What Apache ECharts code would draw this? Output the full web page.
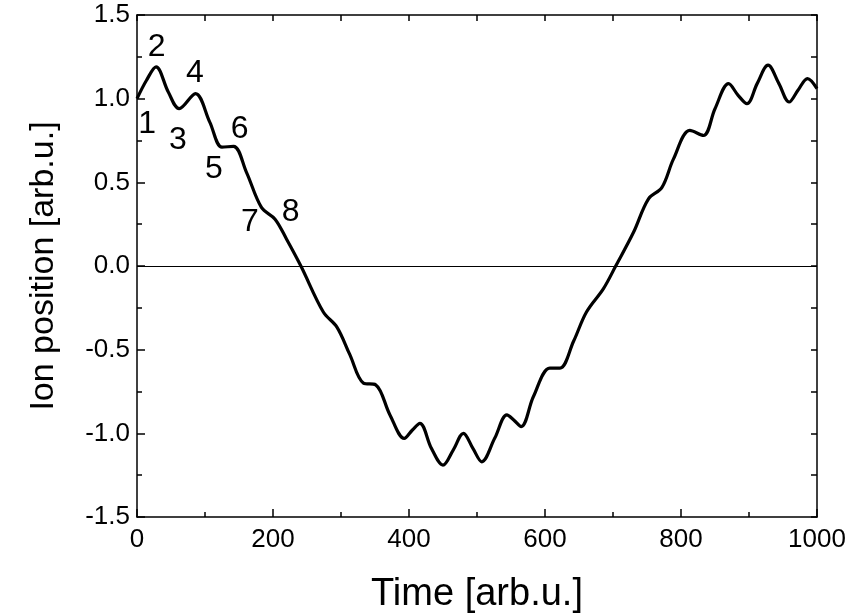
<!DOCTYPE html>
<html>
<head>
<meta charset="utf-8">
<script src="https://cdn.jsdelivr.net/npm/echarts@6/dist/echarts.min.js"></script>
<style>
  html, body { margin: 0; padding: 0; background: #fff; }
  #ion_chart { width: 858px; height: 613px; }
</style>
</head>
<body>
<div id="ion_chart"></div>
<script>
// values
const time_list = [0, 14, 28, 46, 62, 86, 107, 125, 142, 161, 183, 203, 220, 241, 274, 294, 313, 333, 351, 372,
  393, 405, 416, 433, 450, 465, 480, 494, 507, 526, 544, 554, 565, 583, 607, 622, 642, 661, 686, 704,
  730, 752, 772, 789, 813, 833, 850, 870, 884, 897, 912, 928, 944, 959, 972, 986, 1000]
const pos_list = [1.00, 1.11, 1.19, 1.04, 0.94, 1.03, 0.86, 0.71, 0.715, 0.56, 0.35, 0.28, 0.16, 0.00, -0.275, -0.365, -0.53, -0.70, -0.71, -0.89,
  -1.03, -0.98, -0.94, -1.09, -1.19, -1.10, -1.00, -1.09, -1.17, -1.03, -0.89, -0.92, -0.96, -0.78, -0.61, -0.61, -0.45, -0.275, -0.135, 0.00,
  0.20, 0.40, 0.47, 0.64, 0.81, 0.78, 0.94, 1.09, 1.02, 0.97, 1.09, 1.20, 1.09, 0.98, 1.05, 1.12, 1.06]
// numbered markers near the start of the curve
const mark_text = ['1', '2', '3', '4', '5', '6', '7', '8']
const mark_x = [15, 29, 60, 85, 113, 151, 166, 226]
const mark_y = [0.85, 1.31, 0.75, 1.15, 0.58, 0.82, 0.26, 0.32]

const font = 'Liberation Sans, Arial, sans-serif'
const chartDom = document.getElementById('ion_chart')
const myChart = echarts.init(chartDom)

const lineData = time_list.map((t, i) => [t, pos_list[i]])
const markData = mark_text.map((s, i) => ({ value: [mark_x[i], mark_y[i]], name: s }))

const axisLine = { show: true, onZero: false, lineStyle: { color: '#000', width: 1.5 } }

const option = {
  animation: false,
  backgroundColor: '#fff',
  grid: { left: 137, right: 41, top: 15, bottom: 96, outerBoundsMode: 'none', containLabel: false },
  xAxis: [
    {
      type: 'value', position: 'bottom', min: 0, max: 1000, interval: 200,
      axisLine,
      axisTick: { inside: true, length: 8, lineStyle: { color: '#000', width: 1.5 } },
      minorTick: { show: true, splitNumber: 2, length: 5, lineStyle: { color: '#000', width: 1.5 } },
      splitLine: { show: false },
      axisLabel: { color: '#000', fontSize: 26, fontFamily: font, margin: 10, formatter: (v) => String(v) },
      name: 'Time [arb.u.]', nameLocation: 'middle', nameGap: 59,
      nameTextStyle: { color: '#000', fontSize: 38, fontFamily: font },
    },
    {
      type: 'value', position: 'top', min: 0, max: 1000, interval: 100,
      axisLine,
      axisTick: { inside: true, length: 6, lineStyle: { color: '#000', width: 1.5 } },
      splitLine: { show: false },
      axisLabel: { show: false },
    },
  ],
  yAxis: [
    {
      type: 'value', position: 'left', min: -1.5, max: 1.5, interval: 0.5,
      axisLine,
      axisTick: { inside: true, length: 8, lineStyle: { color: '#000', width: 1.5 } },
      minorTick: { show: true, splitNumber: 2, length: 5, lineStyle: { color: '#000', width: 1.5 } },
      splitLine: { show: false },
      axisLabel: { color: '#000', fontSize: 26, fontFamily: font, margin: 7, formatter: (v) => v.toFixed(1) },
      name: 'Ion position [arb.u.]', nameLocation: 'middle', nameGap: 76,
      nameTextStyle: { color: '#000', fontSize: 34, fontFamily: font },
    },
    {
      type: 'value', position: 'right', min: -1.5, max: 1.5, interval: 0.25,
      axisLine,
      axisTick: { inside: true, length: 6, lineStyle: { color: '#000', width: 1.5 } },
      splitLine: { show: false },
      axisLabel: { show: false },
    },
  ],
  series: [
    {
      type: 'line',
      data: lineData,
      smooth: 0.35,
      showSymbol: false,
      lineStyle: { color: '#000', width: 3.2 },
      markLine: {
        silent: true,
        symbol: 'none',
        label: { show: false },
        lineStyle: { color: '#000', width: 1, type: 'solid' },
        data: [{ yAxis: 0 }],
      },
      z: 3,
    },
    {
      type: 'scatter',
      data: markData,
      symbolSize: 0,
      itemStyle: { opacity: 1 },
      label: {
        show: true, position: 'inside', formatter: '{b}',
        color: '#000', fontSize: 32, fontFamily: font,
      },
      z: 4,
    },
  ],
}
myChart.setOption(option)
</script>
</body>
</html>
